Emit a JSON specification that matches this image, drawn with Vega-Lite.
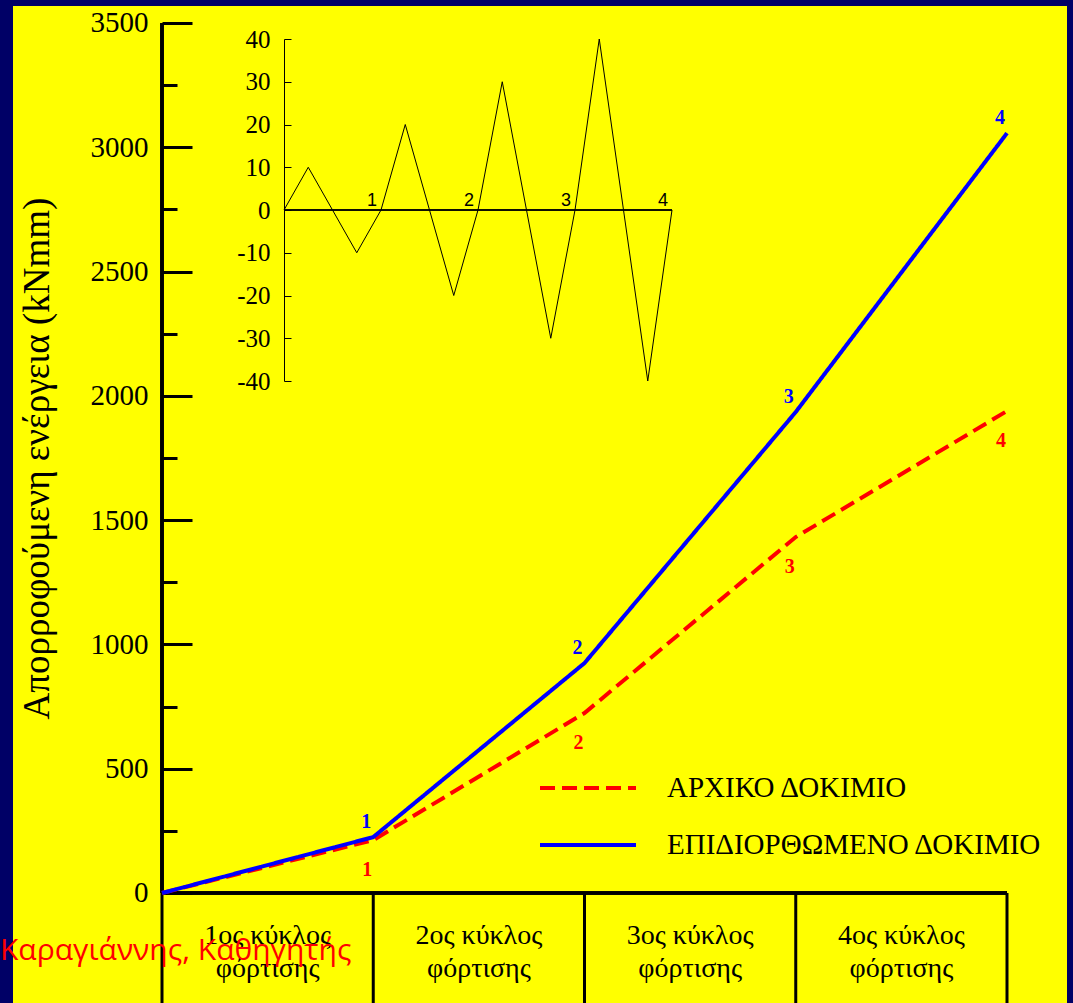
{
  "$schema": "https://vega.github.io/schema/vega-lite/v6.json",
  "width": 1054,
  "height": 997,
  "autosize": {"type": "none"},
  "padding": {"left": 13, "top": 6, "right": 6, "bottom": 0},
  "background": "#000066",
  "view": {"fill": "#FFFF00", "stroke": null},
  "config": {
    "font": "Liberation Serif",
    "axis": {"grid": false},
    "legend": {
      "symbolType": "stroke",
      "symbolSize": 9216,
      "symbolStrokeWidth": 4,
      "labelFont": "Liberation Serif",
      "labelFontSize": 29,
      "labelColor": "black",
      "labelOffset": 29,
      "labelLimit": 1000,
      "clipHeight": 36,
      "rowPadding": 21,
      "padding": 0
    }
  },
  "datasets": {
    "energy": [
      {"cycle": 0, "energy": 0, "specimen": "ΑΡΧΙΚΟ ΔΟΚΙΜΙΟ"},
      {"cycle": 1, "energy": 213, "specimen": "ΑΡΧΙΚΟ ΔΟΚΙΜΙΟ"},
      {"cycle": 2, "energy": 724, "specimen": "ΑΡΧΙΚΟ ΔΟΚΙΜΙΟ"},
      {"cycle": 3, "energy": 1432, "specimen": "ΑΡΧΙΚΟ ΔΟΚΙΜΙΟ"},
      {"cycle": 4, "energy": 1939, "specimen": "ΑΡΧΙΚΟ ΔΟΚΙΜΙΟ"},
      {"cycle": 0, "energy": 0, "specimen": "ΕΠΙΔΙΟΡΘΩΜΕΝΟ ΔΟΚΙΜΙΟ"},
      {"cycle": 1, "energy": 225, "specimen": "ΕΠΙΔΙΟΡΘΩΜΕΝΟ ΔΟΚΙΜΙΟ"},
      {"cycle": 2, "energy": 925, "specimen": "ΕΠΙΔΙΟΡΘΩΜΕΝΟ ΔΟΚΙΜΙΟ"},
      {"cycle": 3, "energy": 1935, "specimen": "ΕΠΙΔΙΟΡΘΩΜΕΝΟ ΔΟΚΙΜΙΟ"},
      {"cycle": 4, "energy": 3057, "specimen": "ΕΠΙΔΙΟΡΘΩΜΕΝΟ ΔΟΚΙΜΙΟ"}
    ],
    "protocol": [
      {"t": 0, "d": 0},
      {"t": 0.25, "d": 10},
      {"t": 0.75, "d": -10},
      {"t": 1, "d": 0},
      {"t": 1.25, "d": 20},
      {"t": 1.75, "d": -20},
      {"t": 2, "d": 0},
      {"t": 2.25, "d": 30},
      {"t": 2.75, "d": -30},
      {"t": 3, "d": 0},
      {"t": 3.25, "d": 40},
      {"t": 3.75, "d": -40},
      {"t": 4, "d": 0}
    ],
    "cycleEnds": [
      {"t": 1, "d": 0, "name": "1"},
      {"t": 2, "d": 0, "name": "2"},
      {"t": 3, "d": 0, "name": "3"},
      {"t": 4, "d": 0, "name": "4"}
    ],
    "cycles": [
      {"cycle": 0}, {"cycle": 1}, {"cycle": 2}, {"cycle": 3}, {"cycle": 4}
    ],
    "cycleNames": [
      {"mid": 0.5, "name": "1ος κύκλος\nφόρτισης"},
      {"mid": 1.5, "name": "2ος κύκλος\nφόρτισης"},
      {"mid": 2.5, "name": "3ος κύκλος\nφόρτισης"},
      {"mid": 3.5, "name": "4ος κύκλος\nφόρτισης"}
    ],
    "credit": [
      {"name": "Καραγιάννης, Καθηγητής"}
    ]
  },
  "layer": [
    {
      "data": {"name": "cycles"},
      "mark": {"type": "rule", "color": "black", "strokeWidth": 3},
      "encoding": {
        "x": {"field": "cycle", "type": "quantitative", "scale": {"domain": [-0.70533, 4.28402], "nice": false, "zero": false}, "axis": null},
        "y": {
          "datum": 0,
          "type": "quantitative",
          "scale": {"domain": [-442.53, 3568.39], "nice": false, "zero": false},
          "axis": {
            "orient": "left",
            "offset": -149,
            "values": [0, 250, 500, 750, 1000, 1250, 1500, 1750, 2000, 2250, 2500, 2750, 3000, 3250, 3500],
            "domain": false,
            "grid": false,
            "ticks": true,
            "tickColor": "black",
            "tickWidth": 3,
            "tickSize": {"condition": {"test": "datum.value % 500 === 0", "value": -30}, "value": -15},
            "labelExpr": "datum.value % 500 === 0 ? ('' + datum.value) : ''",
            "labelFont": "Liberation Serif",
            "labelFontSize": 29,
            "labelColor": "black",
            "labelPadding": 44,
            "labelOverlap": false,
            "title": "Απορροφούμενη ενέργεια (kNmm)",
            "titleFont": "Liberation Serif",
            "titleFontSize": 37,
            "titleFontWeight": "normal",
            "titleColor": "black",
            "titleX": -125,
            "titleY": 452,
            "titleAngle": -90,
            "titleBaseline": "middle",
            "titleAlign": "center"
          }
        },
        "y2": {"datum": -450}
      }
    },
    {
      "data": {"name": "cycles"},
      "mark": {"type": "rule", "color": "black", "strokeWidth": 3},
      "encoding": {
        "x": {"datum": 0, "type": "quantitative", "scale": {"domain": [-0.70533, 4.28402], "nice": false, "zero": false}, "axis": null},
        "y": {"datum": 3500, "type": "quantitative", "scale": {"domain": [-442.53, 3568.39], "nice": false, "zero": false}, "axis": null},
        "y2": {"datum": 0}
      }
    },
    {
      "data": {"name": "cycles"},
      "mark": {"type": "rule", "color": "black", "strokeWidth": 3},
      "encoding": {
        "x": {"datum": 0, "type": "quantitative", "scale": {"domain": [-0.70533, 4.28402], "nice": false, "zero": false}, "axis": null},
        "x2": {"datum": 4},
        "y": {"datum": 0, "type": "quantitative", "scale": {"domain": [-442.53, 3568.39], "nice": false, "zero": false}, "axis": null}
      }
    },
    {
      "data": {"name": "energy"},
      "mark": {"type": "line", "strokeWidth": 4},
      "encoding": {
        "x": {"field": "cycle", "type": "quantitative", "scale": {"domain": [-0.70533, 4.28402], "nice": false, "zero": false}, "axis": null},
        "y": {"field": "energy", "type": "quantitative", "scale": {"domain": [-442.53, 3568.39], "nice": false, "zero": false}, "axis": null},
        "color": {
          "field": "specimen",
          "type": "nominal",
          "scale": {"domain": ["ΑΡΧΙΚΟ ΔΟΚΙΜΙΟ", "ΕΠΙΔΙΟΡΘΩΜΕΝΟ ΔΟΚΙΜΙΟ"], "range": ["#FF0000", "#0000FF"]},
          "legend": {"orient": "none", "legendX": 525, "legendY": 764, "title": null}
        },
        "strokeDash": {
          "field": "specimen",
          "type": "nominal",
          "scale": {"domain": ["ΑΡΧΙΚΟ ΔΟΚΙΜΙΟ", "ΕΠΙΔΙΟΡΘΩΜΕΝΟ ΔΟΚΙΜΙΟ"], "range": [[15, 7], [1, 0]]},
          "legend": {"orient": "none", "legendX": 525, "legendY": 764, "title": null}
        }
      }
    },
    {
      "data": {"name": "energy"},
      "transform": [{"filter": "datum.cycle > 0 && datum.specimen === 'ΑΡΧΙΚΟ ΔΟΚΙΜΙΟ'"}],
      "mark": {"type": "text", "font": "Liberation Serif", "fontSize": 20, "fontWeight": "bold", "color": "#FF0000", "dx": -6, "dy": 30, "baseline": "middle", "align": "center"},
      "encoding": {
        "x": {"field": "cycle", "type": "quantitative", "scale": {"domain": [-0.70533, 4.28402], "nice": false, "zero": false}, "axis": null},
        "y": {"field": "energy", "type": "quantitative", "scale": {"domain": [-442.53, 3568.39], "nice": false, "zero": false}, "axis": null},
        "text": {"field": "cycle", "type": "nominal"}
      }
    },
    {
      "data": {"name": "energy"},
      "transform": [{"filter": "datum.cycle > 0 && datum.specimen === 'ΕΠΙΔΙΟΡΘΩΜΕΝΟ ΔΟΚΙΜΙΟ'"}],
      "mark": {"type": "text", "font": "Liberation Serif", "fontSize": 20, "fontWeight": "bold", "color": "#0000FF", "dx": -7, "dy": -15, "baseline": "middle", "align": "center"},
      "encoding": {
        "x": {"field": "cycle", "type": "quantitative", "scale": {"domain": [-0.70533, 4.28402], "nice": false, "zero": false}, "axis": null},
        "y": {"field": "energy", "type": "quantitative", "scale": {"domain": [-442.53, 3568.39], "nice": false, "zero": false}, "axis": null},
        "text": {"field": "cycle", "type": "nominal"}
      }
    },
    {
      "data": {"name": "cycleNames"},
      "mark": {"type": "text", "font": "Liberation Serif", "fontSize": 28, "color": "black", "lineBreak": "\n", "lineHeight": 33, "baseline": "middle", "align": "center"},
      "encoding": {
        "x": {"field": "mid", "type": "quantitative", "scale": {"domain": [-0.70533, 4.28402], "nice": false, "zero": false}, "axis": null},
        "y": {"datum": -173, "type": "quantitative", "scale": {"domain": [-442.53, 3568.39], "nice": false, "zero": false}, "axis": null},
        "text": {"field": "name", "type": "nominal"}
      }
    },
    {
      "data": {"name": "credit"},
      "mark": {"type": "text", "font": "Open Sans", "fontSize": 30, "color": "#FF0000", "baseline": "alphabetic", "align": "left"},
      "encoding": {
        "x": {"datum": -0.7669, "type": "quantitative", "scale": {"domain": [-0.70533, 4.28402], "nice": false, "zero": false}, "axis": null},
        "y": {"datum": -270, "type": "quantitative", "scale": {"domain": [-442.53, 3568.39], "nice": false, "zero": false}, "axis": null},
        "text": {"field": "name", "type": "nominal"}
      }
    },
    {
      "data": {"name": "protocol"},
      "mark": {"type": "line", "color": "black", "strokeWidth": 1},
      "encoding": {
        "x": {"field": "t", "type": "quantitative", "scale": {"domain": [0, 4], "range": [271, 659], "nice": false, "zero": false}, "axis": null},
        "y": {
          "field": "d",
          "type": "quantitative",
          "scale": {"domain": [-40, 40], "range": [375, 33], "nice": false, "zero": false},
          "axis": {
            "orient": "left",
            "offset": -271,
            "values": [-40, -30, -20, -10, 0, 10, 20, 30, 40],
            "domain": true,
            "domainColor": "black",
            "domainWidth": 1,
            "ticks": true,
            "tickColor": "black",
            "tickWidth": 1,
            "tickSize": -7,
            "labelExpr": "'' + datum.value",
            "labelFont": "Liberation Serif",
            "labelFontSize": 25,
            "labelColor": "black",
            "labelPadding": 21,
            "labelOverlap": false,
            "labelFlush": false,
            "title": null,
            "grid": false
          }
        }
      }
    },
    {
      "data": {"name": "cycleEnds"},
      "mark": {"type": "rule", "color": "black", "strokeWidth": 1},
      "encoding": {
        "x": {"datum": 0, "type": "quantitative", "scale": {"domain": [0, 4], "range": [271, 659], "nice": false, "zero": false}, "axis": null},
        "x2": {"datum": 4},
        "y": {"datum": 0, "type": "quantitative", "scale": {"domain": [-40, 40], "range": [375, 33], "nice": false, "zero": false}, "axis": null}
      }
    },
    {
      "data": {"name": "cycleEnds"},
      "mark": {"type": "text", "font": "Liberation Sans", "fontSize": 18, "color": "black", "dx": -9, "dy": -9, "baseline": "middle", "align": "center"},
      "encoding": {
        "x": {"field": "t", "type": "quantitative", "scale": {"domain": [0, 4], "range": [271, 659], "nice": false, "zero": false}, "axis": null},
        "y": {"field": "d", "type": "quantitative", "scale": {"domain": [-40, 40], "range": [375, 33], "nice": false, "zero": false}, "axis": null},
        "text": {"field": "name", "type": "nominal"}
      }
    }
  ],
  "resolve": {
    "scale": {"x": "independent", "y": "independent"},
    "axis": {"x": "independent", "y": "independent"}
  }
}
